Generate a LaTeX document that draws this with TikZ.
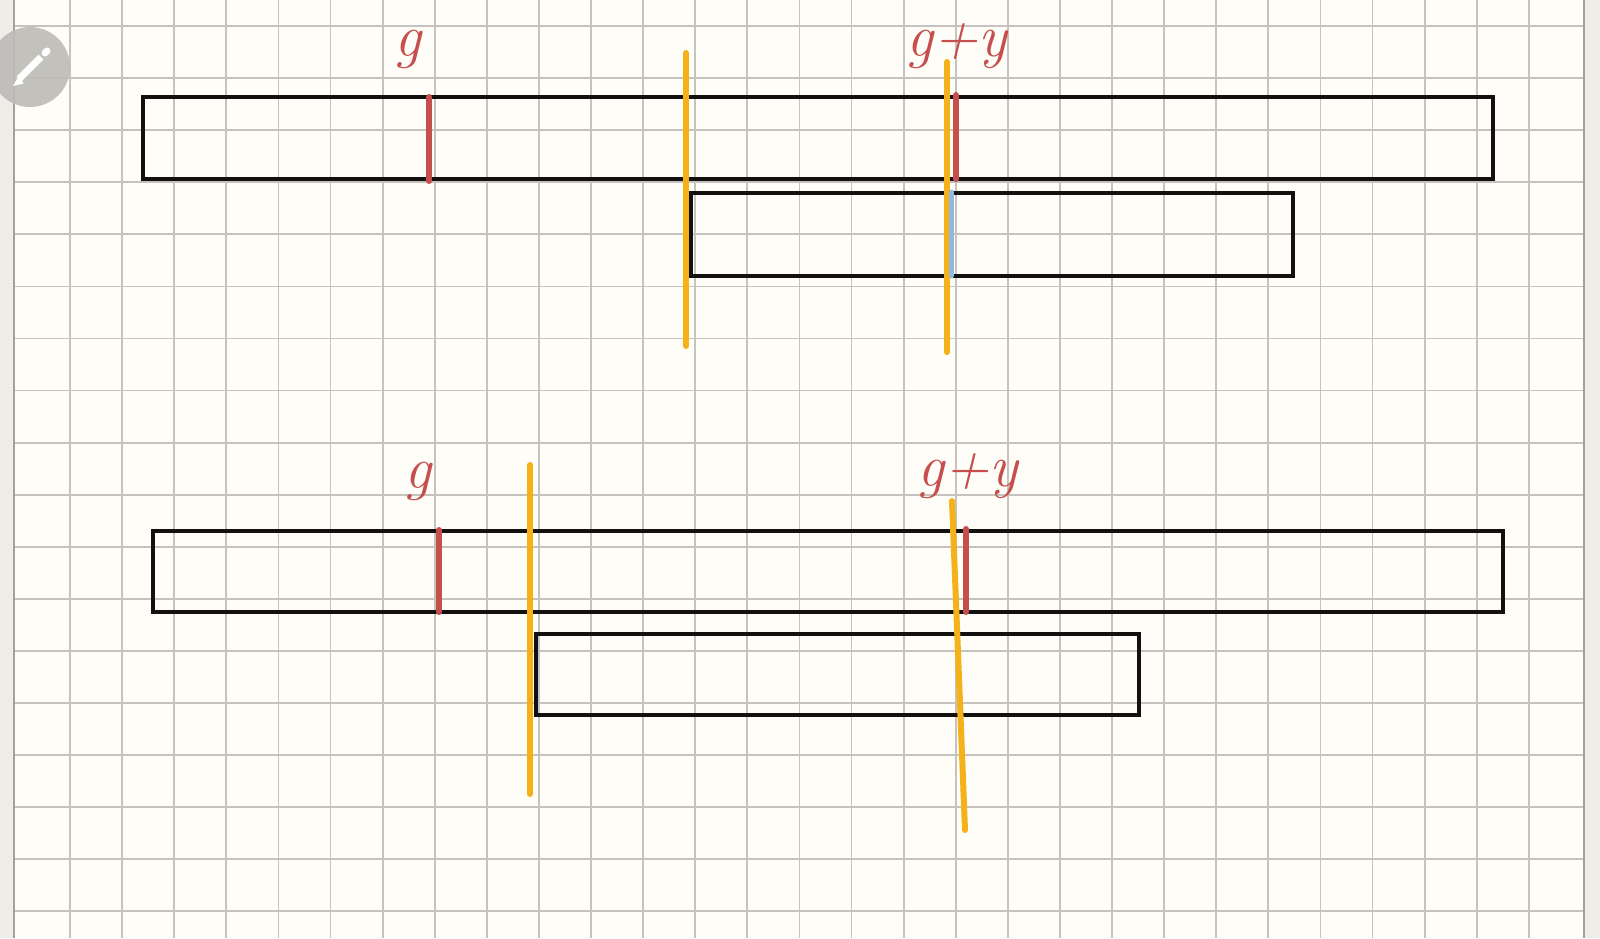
\documentclass[tikz,border=0pt]{standalone}
\usepackage{tikz}
\definecolor{paper}{HTML}{FEFDF7}
\definecolor{strip}{HTML}{EFEDE8}
\definecolor{stripline}{HTML}{A3A19C}
\definecolor{gridc}{HTML}{C6C3BE}
\definecolor{inkred}{HTML}{C64F4E}
\definecolor{inkyel}{HTML}{F4B11A}
\definecolor{inkblue}{HTML}{94B7DF}
\definecolor{inkblk}{HTML}{121110}
\definecolor{iconc}{HTML}{BDBCB8}
\tikzset{
  barbox/.style={draw=inkblk, line width=3.6pt, inner sep=0pt, rectangle},
  redtick/.style={draw=inkred, line width=6pt, line cap=round},
  yelline/.style={draw=inkyel, line width=6pt, line cap=round},
  blueline/.style={draw=inkblue, line width=5pt, line cap=round},
  hand/.style={text=inkred, inner sep=0pt, anchor=base, font=\fontsize{60}{60}\selectfont\itshape},
  gridline/.style={draw=gridc, line width=1.8pt}
}
\begin{document}
\begin{tikzpicture}[x=1pt,y=-1pt]
\useasboundingbox (0,0) rectangle (1600,938);
% paper
\fill[paper] (0,0) rectangle (1600,938);
\foreach \k in {0,...,28} \draw[gridline] ({70+52.1*\k},0) -- ({70+52.1*\k},938);
\foreach \k in {0,...,17} \draw[gridline] (14,{26+52.08*\k}) -- (1584,{26+52.08*\k});
% side strips
\fill[strip] (0,0) rectangle (13,938);
\fill[strip] (1585,0) rectangle (1600,938);
\draw[stripline, line width=2pt] (14,0) -- (14,938);
\draw[stripline, line width=2pt] (1584,0) -- (1584,938);
% pencil icon
\node[circle, fill=iconc, fill opacity=0.92, minimum size=80pt, inner sep=0pt] (icon) at (30,67) {};
\draw[white, line width=7pt] (19,79) -- (41,57);
\fill[white] (19.5,74.5) -- (23.5,83.5) -- (13,86) -- cycle;
\draw[white, line width=7pt, line cap=round] (45,53) -- (47,51);
% ---------- top diagram ----------
\node[barbox, minimum width=1350pt, minimum height=82pt] (top1) at (818,138) {};
\node[barbox, minimum width=602pt, minimum height=83pt] (top2) at (992,234.5) {};
\coordinate (tg1) at (429,97);   \coordinate (tg2) at (429,181);
\coordinate (tgy1) at (956,95);  \coordinate (tgy2) at (956,179);
\coordinate (tb1) at (951,192);  \coordinate (tb2) at (951,276);
\coordinate (ty1a) at (686,53);  \coordinate (ty1b) at (686,346);
\coordinate (ty2a) at (947,62);  \coordinate (ty2b) at (947,352);
\draw[redtick] (tg1) -- (tg2);
\draw[redtick] (tgy1) -- (tgy2);
\draw[yelline] (ty1a) -- (ty1b);
\draw[yelline] (ty2a) -- (ty2b);
\draw[blueline] (tb1) -- (tb2);
\node[hand] (lg1) at (408,56) {g};
\node[hand] (lgy1) at (957,56) {g+y};
% ---------- bottom diagram ----------
\node[barbox, minimum width=1350pt, minimum height=81pt] (bot1) at (828,571.5) {};
\node[barbox, minimum width=603pt, minimum height=81pt] (bot2) at (837.5,674.5) {};
\coordinate (bg1) at (439,530);  \coordinate (bg2) at (439,612);
\coordinate (bgy1) at (966,529); \coordinate (bgy2) at (966,612);
\coordinate (by1a) at (530,465); \coordinate (by1b) at (530,794);
\coordinate (by2a) at (952,501); \coordinate (by2b) at (965,830);
\draw[redtick] (bg1) -- (bg2);
\draw[redtick] (bgy1) -- (bgy2);
\draw[yelline] (by1a) -- (by1b);
\draw[yelline] (by2a) -- (by2b);
\node[hand] (lg2) at (418,488) {g};
\node[hand] (lgy2) at (968,486) {g+y};
\end{tikzpicture}
\end{document}
